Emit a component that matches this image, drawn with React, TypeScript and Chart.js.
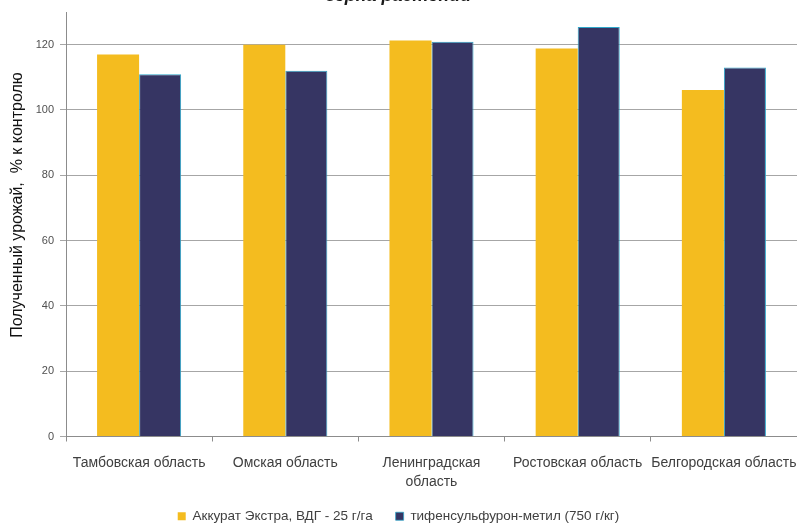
import { useEffect, useRef } from "react";
import { Chart, registerables } from "chart.js";

Chart.register(...registerables);

// Regions (x categories)
const regions: (string | string[])[] = [
  "Тамбовская область",
  "Омская область",
  ["Ленинградская", "область"],
  "Ростовская область",
  "Белгородская область",
];

// Yield, % of control
const accuratExtra = [117, 120, 121.3, 118.8, 106.1];
const thifensulfuron = [110.9, 112, 120.9, 125.4, 113];

const seriesNames = ["Аккурат Экстра, ВДГ - 25 г/га", "тифенсульфурон-метил (750 г/кг)"];
const yTickValues = [0, 20, 40, 60, 80, 100, 120];
const yMax = 130;

const chartTitle = "зерна растений";
const yAxisTitle = "Полученный урожай,  % к контролю";

const FONT = "'Liberation Sans', Arial, sans-serif";

// Rotated value-axis caption, placed beside the tick labels
const yTitlePlugin = {
  id: "yAxisCaption",
  afterDraw(chart: Chart) {
    const ctx = chart.ctx;
    ctx.save();
    ctx.translate(18, 235);
    ctx.rotate(-Math.PI / 2);
    ctx.font = `16px ${FONT}`;
    ctx.fillStyle = "#111111";
    ctx.textAlign = "center";
    ctx.textBaseline = "middle";
    ctx.fillText(yAxisTitle, 0, 0);
    ctx.restore();
  },
};

export default function App() {
  const canvasRef = useRef<HTMLCanvasElement | null>(null);

  useEffect(() => {
    if (!canvasRef.current) return;
    const chart = new Chart(canvasRef.current, {
      type: "bar",
      data: {
        labels: regions,
        datasets: [
          {
            label: seriesNames[0],
            data: accuratExtra,
            backgroundColor: "#f4bc1f",
            borderWidth: 0,
            categoryPercentage: 0.575,
            barPercentage: 1,
          },
          {
            label: seriesNames[1],
            data: thifensulfuron,
            backgroundColor: "#363563",
            borderColor: "#2ea6c9",
            borderWidth: { top: 1, left: 1, right: 1, bottom: 0 },
            categoryPercentage: 0.575,
            barPercentage: 1,
          },
        ],
      },
      options: {
        responsive: false,
        devicePixelRatio: 1,
        animation: false,
        layout: { padding: 0 },
        plugins: {
          title: {
            display: true,
            text: chartTitle,
            color: "#1a1a1a",
            font: { family: FONT, size: 18, weight: "bold", style: "italic" },
            padding: { top: 15.5, bottom: 4.9 },
          },
          legend: {
            position: "bottom",
            labels: {
              boxWidth: 8,
              boxHeight: 8,
              padding: 23,
              color: "#404040",
              font: { family: FONT, size: 13.5 },
            },
          },
          tooltip: { enabled: false },
        },
        scales: {
          x: {
            grid: {
              display: true,
              drawOnChartArea: false,
              drawTicks: true,
              tickLength: 5,
              color: "#8c8c8c",
              offset: true,
            },
            border: { color: "#8c8c8c" },
            ticks: {
              color: "#404040",
              font: { family: FONT, size: 14, lineHeight: 1.3 },
              padding: 13,
              maxRotation: 0,
              autoSkip: false,
            },
            afterFit: (s: any) => {
              s.height = 50;
              s.paddingLeft = 0;
              s.paddingRight = 0;
            },
          },
          y: {
            min: 0,
            max: yMax,
            ticks: {
              stepSize: 20,
              color: "#505050",
              font: { family: FONT, size: 11 },
              padding: 6,
            },
            afterBuildTicks: (s: any) => {
              s.ticks = yTickValues.map((v) => ({ value: v }));
            },
            grid: { color: "#a6a6a6", tickLength: 6 },
            border: { color: "#8c8c8c" },
            afterFit: (s: any) => {
              s.width = 66;
              s.paddingTop = 0;
              s.paddingBottom = 0;
            },
          },
        },
      },
      plugins: [yTitlePlugin],
    });
    return () => chart.destroy();
  }, []);

  return (
    <div
      style={{
        position: "absolute",
        left: 0,
        top: 0,
        width: 797,
        height: 523,
        overflow: "hidden",
        background: "#ffffff",
      }}
    >
      <canvas
        ref={canvasRef}
        width={797}
        height={563}
        style={{ position: "absolute", left: 0, top: -30, width: 797, height: 563 }}
      />
    </div>
  );
}
